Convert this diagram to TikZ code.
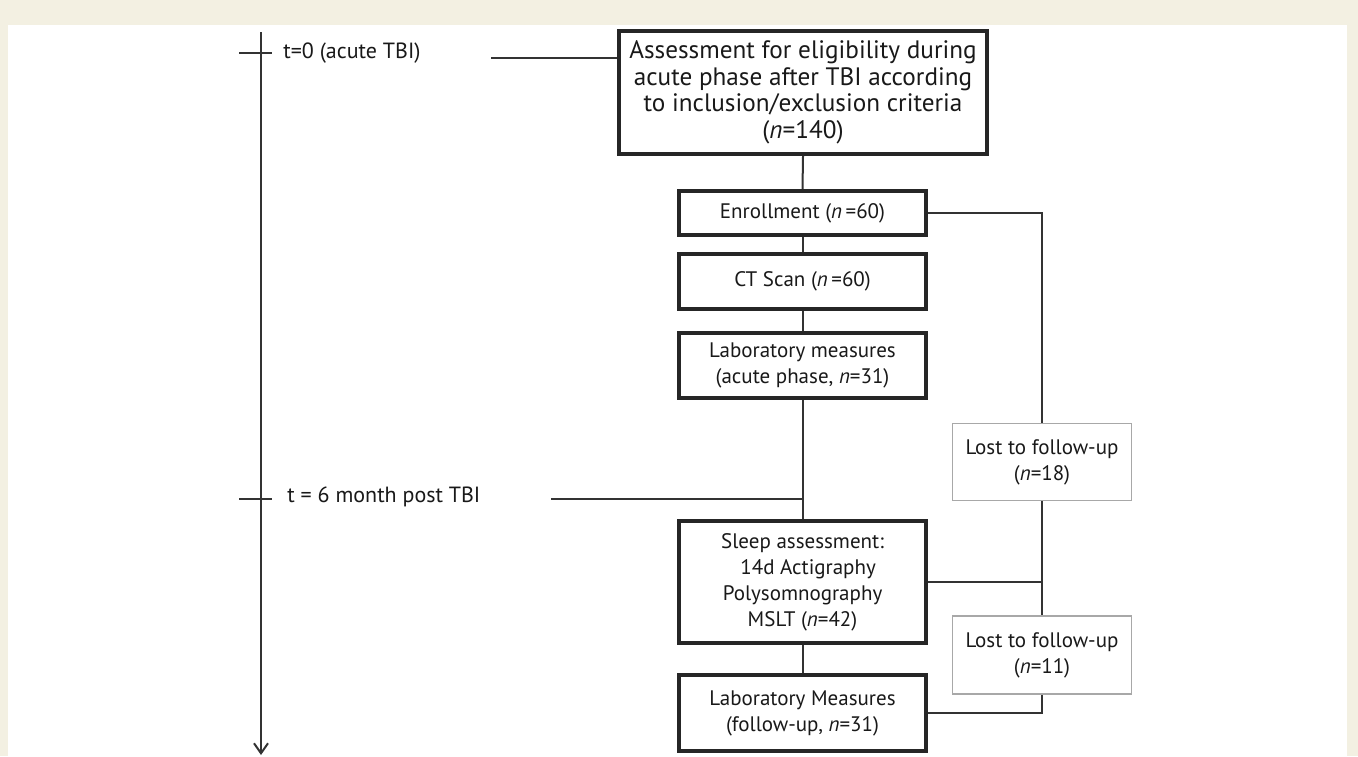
\documentclass[tikz,border=0pt]{standalone}
\usepackage{fontspec}
\setmainfont{PT Sans}
\usetikzlibrary{arrows.meta}
\definecolor{beige}{HTML}{F3F0E2}
\definecolor{linec}{HTML}{333333}
\definecolor{lostc}{HTML}{A8A8A8}
\begin{document}
\begin{tikzpicture}[x=0.5pt,y=-0.5pt,
  every node/.style={font=\fontsize{10.5}{13}\selectfont, text=black!90, inner sep=0pt, align=center},
  mainbox/.style={draw=black!85, line width=2.1pt, rectangle},
  lostbox/.style={draw=lostc, line width=0.75pt, rectangle},
  conn/.style={draw=linec, line width=1pt},
  tl/.style={draw=linec, line width=1pt}]
\useasboundingbox (0,0) rectangle (1358,756);
\fill[beige] (0,0) rectangle (1358,756);
\fill[white] (8,25) rectangle (1347,756);

% timeline
\coordinate (ttop) at (261,32);
\coordinate (tbot) at (261,755);
\draw[tl, -{Straight Barb[length=5pt,width=7pt,line width=1pt]}] (ttop) -- (tbot);
\coordinate (tk0a) at (239,53);
\coordinate (tk0b) at (272,53);
\coordinate (tk6a) at (239,499);
\coordinate (tk6b) at (272,499);
\draw[tl] (tk0a) -- (tk0b);
\draw[tl] (tk6a) -- (tk6b);
\node[anchor=west, font=\fontsize{11}{13}\selectfont] (lt0) at (283,53) {t=0 (acute TBI)};
\node[anchor=west, font=\fontsize{11}{13}\selectfont] (lt6) at (287,497) {t = 6 month post TBI};

% main boxes
\node[mainbox, minimum width=184pt, minimum height=61.5pt, font=\fontsize{12.6}{13.3}\selectfont] (box1) at (803,92.5)
  {Assessment for eligibility during\\acute phase after TBI according\\to inclusion/exclusion criteria\\(\textit{n}=140)};
\node[mainbox, minimum width=123.5pt, minimum height=22pt] (enroll) at (802.5,213)
  {Enrollment (\textit{n}\,=60)};
\node[mainbox, minimum width=123.5pt, minimum height=27.5pt] (ct) at (802.5,281.5)
  {CT Scan (\textit{n}\,=60)};
\node[mainbox, minimum width=123.5pt, minimum height=32.5pt] (lab) at (802.5,365.5)
  {Laboratory measures\\(acute phase, \textit{n}=31)};
\node[mainbox, minimum width=123.5pt, minimum height=61pt] (sleep) at (802.5,582)
  {Sleep assessment:\\\ \ 14d Actigraphy\\Polysomnography\\MSLT (\textit{n}=42)};
\node[mainbox, minimum width=123.5pt, minimum height=38pt] (labfu) at (802.5,713)
  {Laboratory Measures\\(follow-up, \textit{n}=31)};

% lost boxes
\node[lostbox, minimum width=89.5pt, minimum height=38.5pt] (lost1) at (1042,462)
  {Lost to follow-up\\(\textit{n}=18)};
\node[lostbox, minimum width=89.5pt, minimum height=39pt] (lost2) at (1042,655)
  {Lost to follow-up\\(\textit{n}=11)};

% connectors
\coordinate (t0end) at (491,58);
\coordinate (t6start) at (551,499);
\draw[conn] (t0end) -- (box1.west |- t0end);
\draw[conn] (t6start) -- (lab.south |- t6start);
\draw[conn] (box1.south) -- (enroll.north);
\draw[conn] (enroll.south) -- (ct.north);
\draw[conn] (ct.south) -- (lab.north);
\draw[conn] (lab.south) -- (sleep.north);
\draw[conn] (sleep.south) -- (labfu.north);
\draw[conn] (enroll.east) -| (lost1.north);
\draw[conn] (lost1.south) -- (lost2.north);
\draw[conn] (sleep.east) -- (lost1.south |- sleep.east);
\draw[conn] (lost2.south) |- (labfu.east);
\end{tikzpicture}
\end{document}
